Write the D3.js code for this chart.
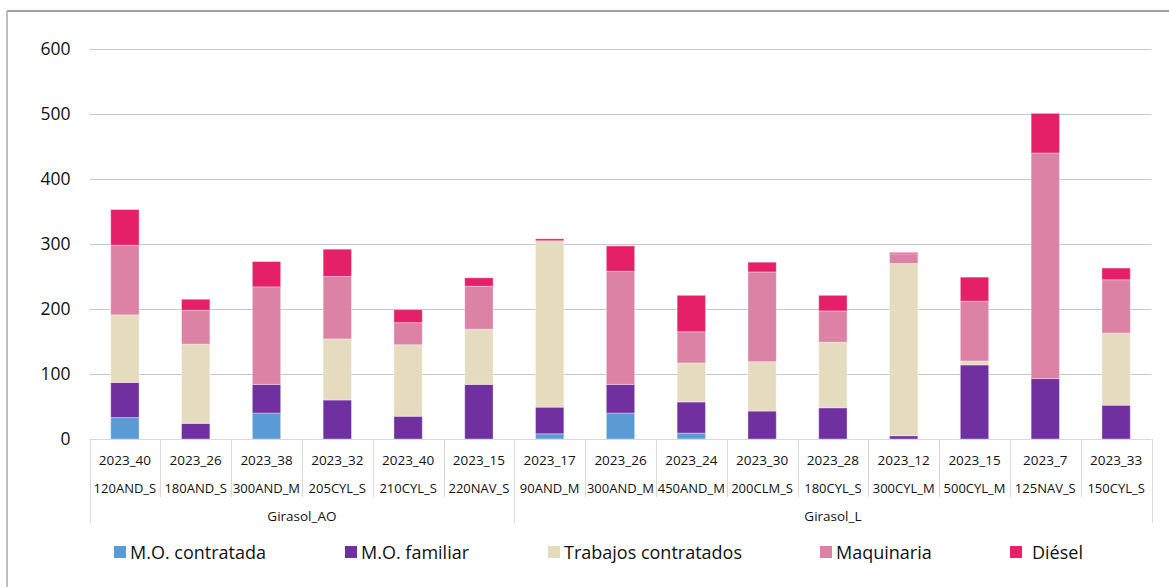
<!DOCTYPE html>
<html>
<head>
<meta charset="utf-8">
<script src="https://cdn.jsdelivr.net/npm/d3@7"></script>
<style>
  body { margin: 0; background: #fff; }
  svg { display: block; font-family: "Open Sans", "Noto Sans", sans-serif; }
</style>
</head>
<body>
<svg width="1169" height="587"></svg>
<script>
// data
const periodos = ['2023_40', '2023_26', '2023_38', '2023_32', '2023_40', '2023_15', '2023_17', '2023_26', '2023_24', '2023_30', '2023_28', '2023_12', '2023_15', '2023_7', '2023_33']
const fincas = ['120AND_S', '180AND_S', '300AND_M', '205CYL_S', '210CYL_S', '220NAV_S', '90AND_M', '300AND_M', '450AND_M', '200CLM_S', '180CYL_S', '300CYL_M', '500CYL_M', '125NAV_S', '150CYL_S']
const grupos = ['Girasol_AO', 'Girasol_L']
const grupoTamano = [6, 9]

const moContratada = [33, 0, 40, 0, 0, 0, 8, 40, 9, 0, 0, 0, 0, 0, 0]
const moFamiliar = [54, 24, 44, 60, 35, 84, 41, 44, 48, 43, 48, 5, 114, 93, 52]
const trabajos = [104, 122, 0, 94, 110, 85, 256, 0, 60, 76, 101, 265, 6, 0, 111]
const maquinaria = [107, 52, 150, 96, 34, 66, 0, 174, 48, 138, 48, 15, 92, 347, 82]
const diesel = [55, 17, 39, 42, 20, 13, 3, 39, 56, 15, 24, 2, 37, 61, 18]

const yTicks = [0, 100, 200, 300, 400, 500, 600]

const series = [
  { key: 'M.O. contratada', values: moContratada, color: '#5b9bd5' },
  { key: 'M.O. familiar', values: moFamiliar, color: '#7030a0' },
  { key: 'Trabajos contratados', values: trabajos, color: '#e5dbbf' },
  { key: 'Maquinaria', values: maquinaria, color: '#dc82a5' },
  { key: 'Diésel', values: diesel, color: '#e52068' }
]

const svg = d3.select('svg')
const plotLeft = 89.5, plotRight = 1151.5, plotTop = 49, plotBottom = 439

// frame
svg.append('line').attr('x1', 7).attr('x2', 1169).attr('y1', 11).attr('y2', 11)
  .attr('stroke', '#444').attr('stroke-width', 1.2)
svg.append('line').attr('x1', 7).attr('x2', 7).attr('y1', 11).attr('y2', 587)
  .attr('stroke', '#aaa').attr('stroke-width', 1.5)

// scales
const x = d3.scaleBand()
  .domain(d3.range(periodos.length))
  .range([plotLeft, plotRight])
  .paddingInner(0.6)
  .paddingOuter(0.3)
const y = d3.scaleLinear()
  .domain([0, 600])
  .range([plotBottom, plotTop])

// grid
svg.append('g')
  .selectAll('line')
  .data(yTicks.filter(d => d > 0))
  .join('line')
  .attr('x1', plotLeft).attr('x2', plotRight)
  .attr('y1', d => Math.round(y(d)) + 0.5).attr('y2', d => Math.round(y(d)) + 0.5)
  .attr('stroke', '#c8c8c8').attr('stroke-width', 1)

// y axis
const yAxis = svg.append('g')
  .attr('transform', 'translate(' + (plotLeft - 19) + ',0)')
  .call(d3.axisLeft(y).tickValues(yTicks).tickSize(0).tickPadding(0))
yAxis.select('.domain').remove()
yAxis.selectAll('text')
  .style('font-size', '17.5px')
  .style('font-family', '"Open Sans", sans-serif')
  .attr('fill', '#111')

// stacked bars
const table = periodos.map((p, i) => {
  const row = { i: i }
  series.forEach(s => { row[s.key] = s.values[i] })
  return row
})
const stacked = d3.stack().keys(series.map(s => s.key))(table)

svg.append('g')
  .selectAll('g')
  .data(stacked)
  .join('g')
  .attr('fill', (d, k) => series[k].color)
  .selectAll('rect')
  .data(d => d.filter(v => v[1] - v[0] > 0))
  .join('rect')
  .attr('x', d => x(d.data.i))
  .attr('width', x.bandwidth())
  .attr('y', d => y(d[1]))
  .attr('height', d => y(d[0]) - y(d[1]))
  .attr('stroke', '#fff')
  .attr('stroke-opacity', 0.35)
  .attr('stroke-width', 1)

// category axis (multi level)
const step = x.step()
const cellEdge = i => plotLeft + i * step
const axisG = svg.append('g')
axisG.append('line')
  .attr('x1', plotLeft).attr('x2', plotRight)
  .attr('y1', plotBottom + 0.5).attr('y2', plotBottom + 0.5)
  .attr('stroke', '#d9d9d9')

const groupEdges = [0]
grupoTamano.forEach(n => groupEdges.push(groupEdges[groupEdges.length - 1] + n))

axisG.selectAll('.div')
  .data(d3.range(periodos.length + 1))
  .join('line')
  .attr('x1', i => Math.round(cellEdge(i)) + 0.5)
  .attr('x2', i => Math.round(cellEdge(i)) + 0.5)
  .attr('y1', plotBottom)
  .attr('y2', i => groupEdges.includes(i) ? 523 : 497)
  .attr('stroke', '#d9d9d9')

axisG.selectAll('.per')
  .data(periodos)
  .join('text')
  .attr('x', (d, i) => x(i) + x.bandwidth() / 2)
  .attr('y', 465)
  .attr('text-anchor', 'middle')
  .style('font-size', '13.5px')
  .attr('fill', '#111')
  .text(d => d)

axisG.selectAll('.fin')
  .data(fincas)
  .join('text')
  .attr('x', (d, i) => x(i) + x.bandwidth() / 2)
  .attr('y', 493)
  .attr('text-anchor', 'middle')
  .style('font-size', '13px')
  .attr('fill', '#111')
  .text(d => d)

axisG.selectAll('.grp')
  .data(grupos)
  .join('text')
  .attr('x', (d, i) => (cellEdge(groupEdges[i]) + cellEdge(groupEdges[i + 1])) / 2)
  .attr('y', 521)
  .attr('text-anchor', 'middle')
  .style('font-size', '13.5px')
  .attr('fill', '#111')
  .text(d => d)

// legend
const legendX = [114, 345, 548, 820, 1010]
const legend = svg.append('g')
  .selectAll('g')
  .data(series)
  .join('g')
  .attr('transform', (d, i) => 'translate(' + legendX[i] + ',546)')
legend.append('rect')
  .attr('width', 12).attr('height', 12)
  .attr('fill', d => d.color)
legend.append('text')
  .attr('x', d => d.key === 'Diésel' ? 22 : 16)
  .attr('y', 12.5)
  .style('font-size', '18px')
  .attr('fill', '#111')
  .text(d => d.key)
</script>
</body>
</html>
